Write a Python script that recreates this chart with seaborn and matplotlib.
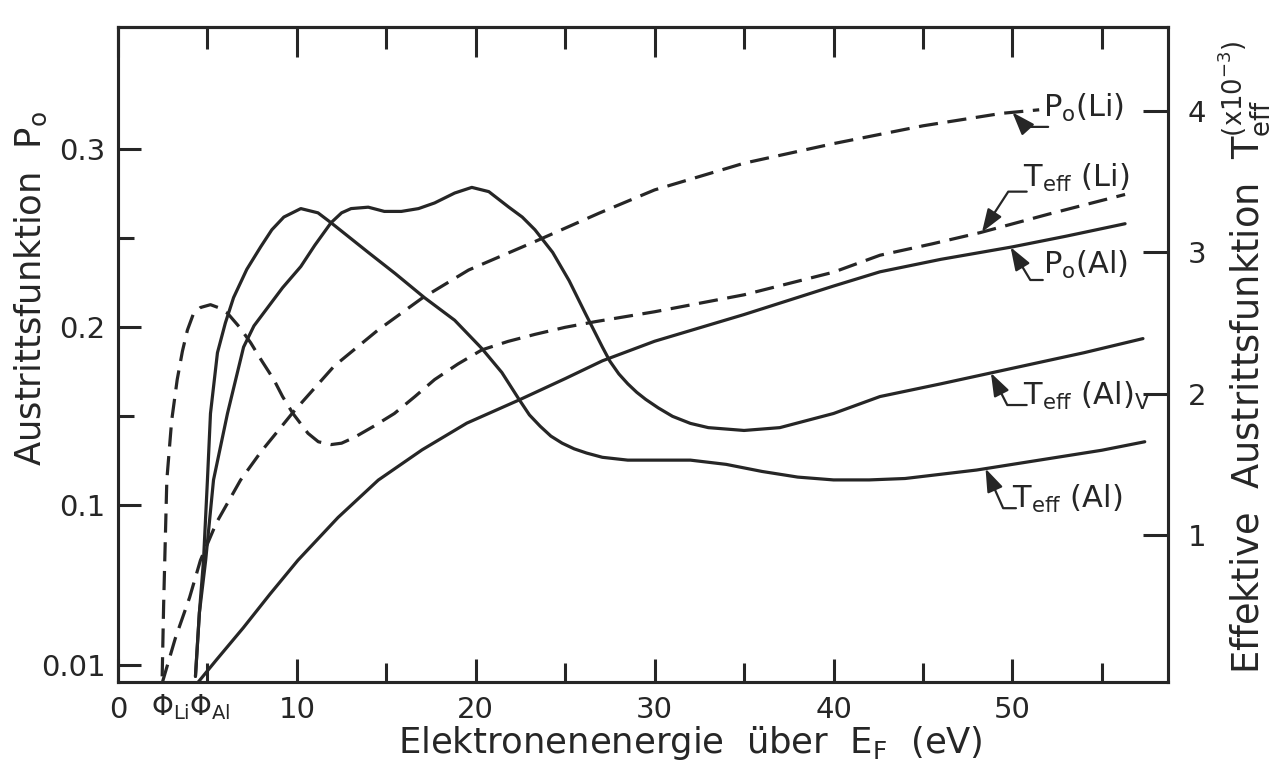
import numpy as np
import pandas as pd
import matplotlib
matplotlib.use("Agg")
import matplotlib.pyplot as plt
import seaborn as sns

# ---------------------------------------------------------------
# Austrittsfunktion P0 (linke Achse) und effektive Austrittsfunktion
# T_eff (rechte Achse, x10^-3) über der Elektronenenergie (eV)
# ---------------------------------------------------------------
e_p0_li = [2.47, 3.2, 4.0, 4.61, 5.5, 6.85, 8.0, 9.78, 12.08, 14.5, 16.97,
           19.6, 23.31, 26.91, 30, 35, 40, 45, 49.4, 51.5]
p0_li = [0.0, 0.025, 0.048, 0.069, 0.090, 0.114, 0.130, 0.152, 0.178, 0.198,
         0.216, 0.232, 0.248, 0.264, 0.277, 0.292, 0.303, 0.313, 0.320, 0.322]

e_teff_li = [2.47, 2.55, 2.62, 2.73, 3.0, 3.31, 3.6, 3.88, 4.2, 4.61, 5.17,
             5.6, 6.12, 6.8, 7.42, 8.0, 8.71, 9.2, 9.78, 10.62, 11.2, 11.91,
             12.5, 13.2, 14.3, 15.45, 16.6, 17.7, 19.0, 20.34, 21.8, 23.31,
             25.0, 26.69, 30, 35, 40, 42.6, 45.5, 48.2, 52, 56.3]
teff_li = [0.0, 0.5, 0.85, 1.39, 1.81, 2.10, 2.30, 2.45, 2.56, 2.61, 2.63,
           2.61, 2.57, 2.47, 2.36, 2.24, 2.10, 1.98, 1.86, 1.72, 1.66, 1.64,
           1.65, 1.69, 1.77, 1.86, 1.98, 2.10, 2.21, 2.31, 2.37, 2.42,
           2.47, 2.51, 2.58, 2.70, 2.86, 2.98, 3.06, 3.14, 3.27, 3.41]

e_p0_al = [4.44, 5.5, 7.0, 8.5, 10.06, 12.3, 14.55, 17, 19.5, 22.42, 25,
           27.08, 30, 35, 40, 42.6, 46, 50, 53, 56.3]
p0_al = [0.0, 0.013, 0.031, 0.050, 0.069, 0.093, 0.114, 0.131, 0.146, 0.159,
         0.171, 0.181, 0.192, 0.207, 0.223, 0.231, 0.238, 0.245, 0.251, 0.258]

e_teff_al = [4.33, 4.55, 4.78, 5.0, 5.17, 5.56, 6.0, 6.46, 7.2, 7.98, 8.6,
             9.27, 10.22, 11.18, 11.91, 13.0, 13.99, 15.5, 17.13, 18.82,
             20.34, 21.46, 22.42, 23.0, 23.6, 24.2, 24.83, 25.5, 26.2, 27.08,
             28.5, 30, 32, 34, 36, 38, 40, 42, 44, 46, 48, 50, 52, 55, 57.4]
teff_al = [0.0, 0.45, 0.82, 1.39, 1.86, 2.29, 2.50, 2.68, 2.88, 3.04, 3.16,
           3.25, 3.31, 3.28, 3.21, 3.10, 3.00, 2.85, 2.68, 2.52,
           2.32, 2.15, 1.96, 1.85, 1.77, 1.70, 1.65, 1.61, 1.58, 1.55,
           1.53, 1.53, 1.53, 1.50, 1.45, 1.41, 1.39, 1.39, 1.40, 1.43, 1.46,
           1.50, 1.54, 1.60, 1.66]

e_teff_al_v = [4.33, 4.55, 4.9, 5.34, 6.12, 7.02, 7.6, 8.37, 9.2, 10.22, 11.0,
               11.91, 12.5, 13.03, 13.99, 14.89, 15.84, 16.8, 17.7, 18.82,
               19.78, 20.73, 21.85, 22.6, 23.31, 24.3, 25.22, 26.12, 27.08,
               27.5, 28.0, 28.5, 29.0, 29.5, 30.2, 31, 32, 33, 35, 37, 40,
               42.6, 46, 50, 54, 57.3]
teff_al_v = [0.0, 0.45, 0.82, 1.39, 1.86, 2.33, 2.48, 2.61, 2.75, 2.90, 3.05,
             3.21, 3.28, 3.31, 3.32, 3.29, 3.29, 3.31, 3.35, 3.42,
             3.46, 3.43, 3.32, 3.25, 3.16, 3.00, 2.80, 2.57, 2.33,
             2.23, 2.14, 2.07, 2.01, 1.96, 1.90, 1.84, 1.79, 1.76, 1.74, 1.76,
             1.86, 1.98, 2.07, 2.18, 2.29, 2.39]

x_ticks = [0, 10, 20, 30, 40, 50]
x_minor = [5, 15, 25, 35, 45, 55]
p_ticks = [0.01, 0.1, 0.2, 0.3]
p_tick_labels = ["0.01", "0.1", "0.2", "0.3"]
p_minor = [0.15, 0.25]
t_ticks = [1, 2, 3, 4]
phi_labels = [(1.85, r"$\Phi_{Li}$"), (3.95, r"$\Phi_{Al}$")]

# ---------------------------------------------------------------
sns.set_theme(style="white")
plt.rcParams["font.family"] = ["DejaVu Sans"]
plt.rcParams["mathtext.default"] = "regular"
plt.rcParams["axes.unicode_minus"] = True

INK = "#262626"
LW = 2.3
DASH = (0, (6, 3))
LBL = 25.5
TCK = 21

fig = plt.figure(figsize=(12.7, 7.75), dpi=100)
ax = fig.add_axes([118 / 1270, 1 - 682 / 775, 1050 / 1270, 655 / 775])
ax2 = ax.twinx()

def curve(axis, e, v, ls):
    df = pd.DataFrame({"E": e, "v": v})
    sns.lineplot(data=df, x="E", y="v", ax=axis, color=INK, linewidth=LW,
                 linestyle=ls, estimator=None, sort=False)

curve(ax, e_p0_li, p0_li, DASH)
curve(ax, e_p0_al, p0_al, "-")
curve(ax2, e_teff_li, teff_li, DASH)
curve(ax2, e_teff_al, teff_al, "-")
curve(ax2, e_teff_al_v, teff_al_v, "-")

ax.set_xlim(0, 58.7)
ax.set_ylim(0.0006, 0.3685)
ax2.set_ylim(-0.04, 4.595)

ax.set_xticks(x_ticks)
ax.set_xticks(x_minor, minor=True)
ax.set_yticks(p_ticks)
ax.set_yticklabels(p_tick_labels)
ax.set_yticks(p_minor, minor=True)
ax2.set_yticks(t_ticks)

for a in (ax, ax2):
    for s in a.spines.values():
        s.set_linewidth(2.2)
        s.set_color(INK)

ax.tick_params(axis="x", which="major", direction="in", length=16.5, width=2.2,
               top=False, bottom=True, color=INK, labelsize=TCK, pad=10,
               labelcolor=INK)
ax.tick_params(axis="x", which="minor", direction="in", length=14, width=2.2,
               top=False, bottom=True, color=INK)
ax.tick_params(axis="y", which="major", direction="in", length=16.5, width=2.2,
               left=True, right=False, color=INK, labelsize=TCK, pad=9,
               labelcolor=INK)
ax.tick_params(axis="y", which="minor", direction="in", length=11.5, width=2.2,
               left=True, right=False, color=INK)
ax2.tick_params(axis="y", which="major", direction="in", length=18, width=2.2,
                right=True, left=False, color=INK, labelsize=TCK, pad=14,
                labelcolor=INK)
ax2.tick_params(axis="y", which="minor", length=0)

# obere Achse: gleiche Teilung, längere Striche, ohne Beschriftung
top = ax.secondary_xaxis("top")
top.set_xticks(x_ticks)
top.set_xticks(x_minor, minor=True)
top.tick_params(axis="x", which="major", direction="in", length=21.5,
                width=2.2, color=INK, labeltop=False)
top.tick_params(axis="x", which="minor", direction="in", length=16,
                width=2.2, color=INK)
top.spines["top"].set_linewidth(2.2)
top.spines["top"].set_color(INK)

# Schwellen Phi_Li und Phi_Al an der Energieachse
xtr = ax.get_xaxis_transform()
for e, txt in phi_labels:
    ax.text(e, -0.016, txt, transform=xtr, ha="left", va="top",
            fontsize=20, color=INK)

ax.set_xlabel(r"Elektronenenergie  über  $E_F$  (eV)", fontsize=LBL, color=INK)
ax.xaxis.set_label_coords(0.545, -0.064)
ax.set_ylabel(r"Austrittsfunktion  $P_o$", fontsize=LBL, color=INK)
ax.yaxis.set_label_coords(-0.066, 0.6)
ax2.set_ylabel(r"Effektive  Austrittsfunktion  $T_{eff}^{(x10^{-3})}$",
               fontsize=26.5, color=INK)
ax2.yaxis.set_label_coords(1.046, 0.495)

# Kurvenbeschriftungen mit Pfeilen
def label(axis, text, e_txt, v_txt, e_tip, e_arr, v_arr, e_curve, v_curve, angB):
    axis.text(e_txt, v_txt, text, ha="left", va="baseline", fontsize=22,
              color=INK)
    tip = float(np.interp(e_tip, e_curve, v_curve))
    axis.annotate("", xy=(e_tip, tip), xytext=(e_arr, v_arr),
                  arrowprops=dict(arrowstyle="-|>,head_length=0.7,head_width=0.25",
                                  connectionstyle=f"angle,angleA=0,angleB={angB},rad=0",
                                  color=INK, lw=1.6, shrinkA=0, shrinkB=0,
                                  mutation_scale=20))

label(ax, r"$P_o$(Li)", 51.7, 0.318, 50.0, 52.0, 0.3124, e_p0_li, p0_li, -48)
label(ax2, r"$T_{eff}$ (Li)", 50.6, 3.46, 48.3, 50.8, 3.43, e_teff_li, teff_li, 57)
label(ax, r"$P_o$(Al)", 51.7, 0.230, 49.9, 51.7, 0.2264, e_p0_al, p0_al, -59)
label(ax2, r"$T_{eff}$ (Al)$_V$", 50.6, 1.92, 48.8, 50.8, 1.92, e_teff_al_v,
      teff_al_v, -63)
label(ax2, r"$T_{eff}$ (Al)", 50.0, 1.19, 48.5, 50.2, 1.19, e_teff_al, teff_al, -66)

fig.savefig("out.png", dpi=100)
